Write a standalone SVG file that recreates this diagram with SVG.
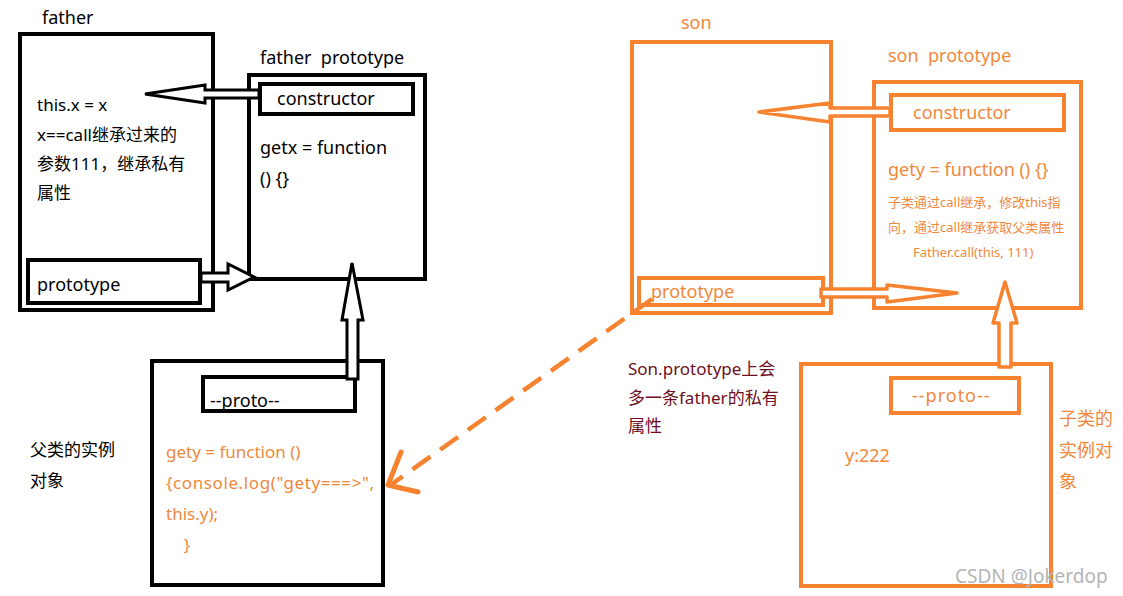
<svg xmlns="http://www.w3.org/2000/svg" width="1123" height="596" viewBox="0 0 1123 596" xml:space="preserve">
<style>
text{font-family:"Noto Sans","Noto Sans CJK SC",sans-serif;font-size:18px;white-space:pre}
.k{fill:#000}
.o{fill:#f0883c}
.m{fill:#6e0f1f;font-size:17px}
.s{font-size:13px}
.t{font-size:17px}
.bk{fill:none;stroke:#000;stroke-width:4}
.or{fill:none;stroke:#f7822f;stroke-width:4}
.ak{fill:#fff;stroke:#000;stroke-width:3;stroke-linejoin:miter}
.ao{fill:#fff;stroke:#f7822f;stroke-width:3.5;stroke-linejoin:round}
</style>
<rect width="1123" height="596" fill="#fff"/>
<g id="father">
<rect class="bk" x="20" y="34" width="193" height="276"/>
<text class="k" x="42" y="24">father</text>
<text class="k t" x="37" y="111">this.x = x</text>
<text class="k t" x="37" y="141">x==call继承过来的</text>
<text class="k t" x="37" y="170">参数111，继承私有</text>
<text class="k t" x="37" y="199">属性</text>
</g>
<g id="father-prototype-slot">
<rect class="bk" x="28" y="260" width="172" height="43"/>
<text class="k" x="37" y="291">prototype</text>
</g>
<g id="father-prototype">
<rect class="bk" x="249" y="75" width="176" height="204"/>
<text class="k" x="260" y="64">father  prototype</text>
<text class="k" x="260" y="154">getx = function</text>
<text class="k" x="260" y="185">() {}</text>
</g>
<g id="father-constructor">
<rect class="bk" x="260" y="84" width="153" height="30" stroke-width="5"/>
<text class="k" x="277" y="105">constructor</text>
</g>
<g id="father-instance">
<rect class="bk" x="152" y="361" width="231" height="224"/>
<text class="o t" x="166" y="458">gety = function ()</text>
<text class="o t" x="166" y="489" letter-spacing="0.6">{console.log("gety===>",</text>
<text class="o t" x="166" y="520">this.y);</text>
<text class="o t" x="166" y="551">    }</text>
</g>
<g id="father-proto">
<rect class="bk" x="203" y="377" width="152" height="34"/>
<text class="k" x="210" y="407">--proto--</text>
</g>
<g id="father-instance-label">
<text class="k t" x="30" y="456">父类的实例</text>
<text class="k t" x="30" y="487">对象</text>
</g>
<g id="son">
<rect class="or" x="632" y="42" width="199" height="271"/>
<text class="o" x="681" y="29">son</text>
</g>
<g id="son-prototype-slot">
<rect class="or" x="639" y="278" width="184" height="27"/>
<text class="o" x="651" y="298">prototype</text>
</g>
<g id="son-prototype">
<rect class="or" x="874" y="82" width="207" height="226"/>
<text class="o" x="888" y="62">son  prototype</text>
<text class="o" x="888" y="176">gety = function () {}</text>
<text class="o s" x="888" y="207">子类通过call继承，修改this指</text>
<text class="o s" x="888" y="232">向，通过call继承获取父类属性</text>
<text class="o s" x="913" y="257">Father.call(this, 111)</text>
</g>
<g id="son-constructor">
<rect class="or" x="891" y="95" width="173" height="35"/>
<text class="o" x="913" y="119">constructor</text>
</g>
<g id="son-instance">
<rect class="or" x="801" y="364" width="250" height="222"/>
<text class="o" x="845" y="462">y:222</text>
</g>
<g id="son-proto">
<rect class="or" x="891" y="378" width="128" height="35"/>
<text class="o" x="912" y="402" letter-spacing="1">--proto--</text>
</g>
<g id="son-instance-label">
<text class="o" x="1059" y="425">子类的</text>
<text class="o" x="1059" y="457">实例对</text>
<text class="o" x="1059" y="488">象</text>
</g>
<g id="note">
<text class="m" x="628" y="375">Son.prototype上会</text>
<text class="m" x="628" y="404">多一条father的私有</text>
<text class="m" x="628" y="432">属性</text>
</g>
<g id="connectors">
<polygon class="ak" points="145,94 205,85 205,90 259,90 259,98 205,98 205,103"/>
<polygon class="ak" points="201,273 228,273 228,264 254,277 228,290 228,282 201,282"/>
<polygon class="ak" points="352,263 363,320 358,320 358,379 347,379 347,320 342,320"/>
<polygon class="ao" points="759,112 830,103 830,108 890,108 890,116 830,116 830,122"/>
<polygon class="ao" points="821,289 887,289 887,285 957,293 887,302 887,297 821,297"/>
<polygon class="ao" points="1005,282 1017,323 1011,323 1011,367 999,367 999,323 993,323"/>
<line x1="652" y1="299" x2="392" y2="484" stroke="#f7822f" stroke-width="4.5" stroke-dasharray="22,12"/>
<polyline points="401,452 388,485 418,492" fill="none" stroke="#f7822f" stroke-width="5" stroke-linecap="round" stroke-linejoin="round"/>
</g>
<text x="955" y="583" fill="#b4b4b4" style="font-size:19px">CSDN @Jokerdop</text>
</svg>
